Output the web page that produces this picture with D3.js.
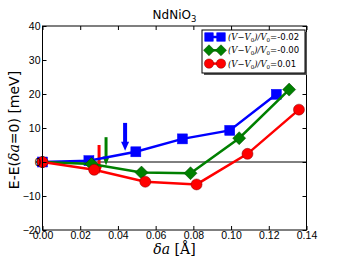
<!DOCTYPE html>
<html>
<head>
<meta charset="utf-8" />
<style>
  body { margin: 0; background: white; }
  svg { font-family: "DejaVu Sans", sans-serif; }
</style>
<script src="https://cdnjs.cloudflare.com/ajax/libs/d3/7.8.5/d3.min.js"></script>
</head>
<body>
<div id="graph"></div>
<script>

var xTicks = [0, 0.02, 0.04, 0.06, 0.08, 0.10, 0.12, 0.14];
var yTicks = [-20, -10, 0, 10, 20, 30, 40];

var blueX = [0, 0.0246, 0.0495, 0.0742, 0.0993, 0.124];
var blueY = [0, 0.4, 3.0, 6.8, 9.3, 19.9];
var greenX = [0, 0.026, 0.0525, 0.0785, 0.1043, 0.1308];
var greenY = [0, -0.6, -3.1, -3.3, 7.0, 21.3];
var redX = [0, 0.0274, 0.0545, 0.0817, 0.1087, 0.136];
var redY = [0, -2.3, -5.8, -6.6, 2.4, 15.4];

// arrows: x, start y, end y
var arrows = [
  { x: 0.0438, y0: 11.5, y1: 3.3, color: "blue", w: 4 },
  { x: 0.0337, y0: 7.3, y1: -1.0, color: "green", w: 3 },
  { x: 0.0300, y0: 5.0, y1: -3.5, color: "red", w: 3 }
];

var series = [
  { label: "=-0.02", xs: blueX, ys: blueY, color: "blue", shape: "square" },
  { label: "=-0.00", xs: greenX, ys: greenY, color: "green", shape: "diamond" },
  { label: "=0.01", xs: redX, ys: redY, color: "red", shape: "circle" }
];

var W = 341, H = 256;
var mLeft = 42.5, mRight = 306.5, mTop = 26, mBottom = 230;

var x = d3.scaleLinear().domain([0, 0.14]).range([mLeft, mRight]);
var y = d3.scaleLinear().domain([-20, 40]).range([mBottom, mTop]);

var svg = d3.select("#graph").append("svg")
  .attr("width", W).attr("height", H);

// zero line
svg.append("line")
  .attr("x1", mLeft).attr("x2", mRight)
  .attr("y1", y(0)).attr("y2", y(0))
  .attr("stroke", "black").attr("stroke-width", 1);

// arrows
arrows.forEach(function (a) {
  var ax = x(a.x), ay0 = y(a.y0), ay1 = y(a.y1);
  var headLen = 9, headW = a.w + 4;
  svg.append("line")
    .attr("x1", ax).attr("x2", ax)
    .attr("y1", ay0).attr("y2", ay1 - headLen + 1)
    .attr("stroke", a.color).attr("stroke-width", a.w);
  svg.append("path")
    .attr("d", "M" + (ax - headW / 2) + "," + (ay1 - headLen) + "L" + (ax + headW / 2) + "," + (ay1 - headLen) + "L" + ax + "," + ay1 + "Z")
    .attr("fill", a.color);
});

var line = d3.line();

function marker(g, shape, color, cx, cy, k) {
  k = k || 1;
  if (shape == "square") {
    g.append("rect").attr("x", cx - 5 * k).attr("y", cy - 5 * k).attr("width", 10 * k).attr("height", 10 * k)
      .attr("fill", color).attr("stroke", color).attr("stroke-width", 0.5);
  } else if (shape == "diamond") {
    var d = 6.5 * k;
    g.append("path").attr("d", "M" + cx + "," + (cy - d) + "L" + (cx + d) + "," + cy + "L" + cx + "," + (cy + d) + "L" + (cx - d) + "," + cy + "Z")
      .attr("fill", color).attr("stroke", "#004000").attr("stroke-width", 0.5);
  } else {
    g.append("circle").attr("cx", cx).attr("cy", cy).attr("r", 5.5 * k)
      .attr("fill", color).attr("stroke", "#800000").attr("stroke-width", 0.5);
  }
}

series.forEach(function (s) {
  var pts = s.xs.map(function (v, i) { return [x(v), y(s.ys[i])]; });
  svg.append("path").attr("d", line(pts))
    .attr("fill", "none").attr("stroke", s.color).attr("stroke-width", 2.5);
  var g = svg.append("g");
  pts.forEach(function (p) { marker(g, s.shape, s.color, p[0], p[1]); });
});

// frame
svg.append("rect")
  .attr("x", mLeft).attr("y", mTop)
  .attr("width", mRight - mLeft).attr("height", mBottom - mTop)
  .attr("fill", "none").attr("stroke", "black").attr("stroke-width", 1);

// axes with inward ticks
svg.append("g").attr("transform", "translate(0," + mBottom + ")")
  .call(d3.axisBottom(x).tickValues(xTicks).tickFormat(d3.format(".2f")).tickSizeInner(-4).tickSizeOuter(0).tickPadding(2))
  .call(function (g) { g.select(".domain").remove(); g.selectAll("text").style("font-size", "10.5px").attr("fill", "black"); });
svg.append("g").attr("transform", "translate(0," + mTop + ")")
  .call(d3.axisTop(x).tickValues(xTicks).tickFormat("").tickSizeInner(-4).tickSizeOuter(0))
  .call(function (g) { g.select(".domain").remove(); });
svg.append("g").attr("transform", "translate(" + mLeft + ",0)")
  .call(d3.axisLeft(y).tickValues(yTicks).tickFormat(function (d) { return d < 0 ? "\u2212" + (-d) : d; }).tickSizeInner(-4).tickSizeOuter(0).tickPadding(2))
  .call(function (g) { g.select(".domain").remove(); g.selectAll("text").style("font-size", "10.5px").attr("fill", "black"); });
svg.append("g").attr("transform", "translate(" + mRight + ",0)")
  .call(d3.axisRight(y).tickValues(yTicks).tickFormat("").tickSizeInner(-4).tickSizeOuter(0))
  .call(function (g) { g.select(".domain").remove(); });

// title
var title = svg.append("text").attr("x", (mLeft + mRight) / 2).attr("y", 19)
  .attr("text-anchor", "middle").style("font-size", "12px");
title.append("tspan").text("NdNiO");
title.append("tspan").attr("dy", 3).style("font-size", "8.5px").text("3");

// y label
var yl = svg.append("text")
  .attr("transform", "translate(19," + ((mTop + mBottom) / 2 + 2) + ") rotate(-90)")
  .attr("text-anchor", "middle").style("font-size", "14px");
yl.append("tspan").text("E-E(");
yl.append("tspan").style("font-family", "'DejaVu Serif', serif").style("font-style", "italic").text("\u03b4a");
yl.append("tspan").text("=0) [meV]");

// x label
var xl = svg.append("text").attr("x", (mLeft + mRight) / 2).attr("y", 254)
  .attr("text-anchor", "middle").style("font-size", "14px").style("font-family", "'DejaVu Serif', serif");
xl.append("tspan").style("font-style", "italic").text("\u03b4a");
xl.append("tspan").text(" [\u00c5]");

// legend
var lx = 202, ly = 30, lw = 103, lh = 43;
svg.append("rect").attr("x", lx + 2).attr("y", ly + 2).attr("width", lw).attr("height", lh)
  .attr("fill", "#555");
svg.append("rect").attr("x", lx).attr("y", ly).attr("width", lw).attr("height", lh)
  .attr("fill", "white").attr("stroke", "black").attr("stroke-width", 1);
series.forEach(function (s, i) {
  var cy = ly + 7 + i * 13.3;
  svg.append("line").attr("x1", lx + 7).attr("x2", lx + 19).attr("y1", cy).attr("y2", cy)
    .attr("stroke", s.color).attr("stroke-width", 2.5);
  var g = svg.append("g");
  marker(g, s.shape, s.color, lx + 7, cy, 0.85);
  marker(g, s.shape, s.color, lx + 19, cy, 0.85);
  var t = svg.append("text").attr("x", lx + 26).attr("y", cy + 3).style("font-size", "8.5px");
  t.append("tspan").style("font-family", "'DejaVu Serif', serif").style("font-style", "italic").text("(V\u2212V");
  t.append("tspan").attr("dy", 2).style("font-size", "5.5px").style("font-family", "'DejaVu Serif', serif").text("0");
  t.append("tspan").attr("dy", -2).style("font-family", "'DejaVu Serif', serif").style("font-style", "italic").text(")/V");
  t.append("tspan").attr("dy", 2).style("font-size", "5.5px").style("font-family", "'DejaVu Serif', serif").text("0");
  t.append("tspan").attr("dy", -2).text(s.label);
});

</script>
</body>
</html>
